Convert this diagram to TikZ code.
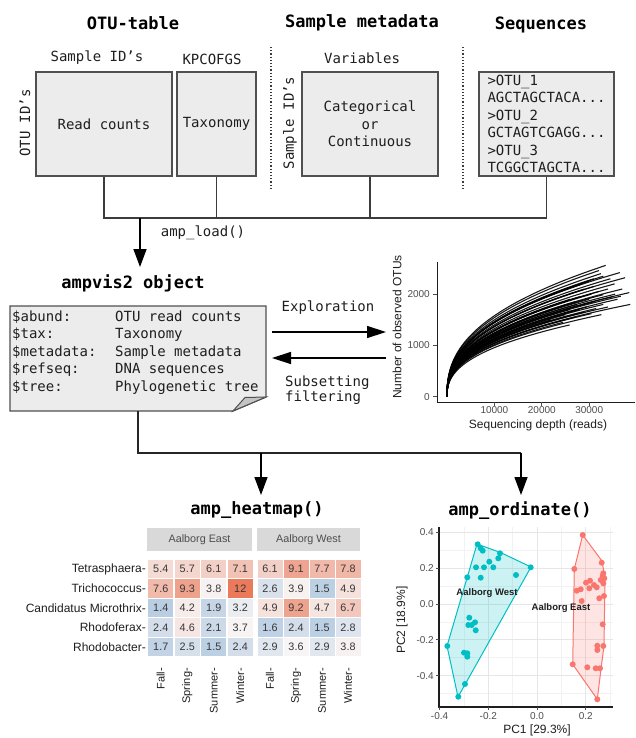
\documentclass[tikz,border=0pt]{standalone}
\usepackage{fontspec}
\setmainfont{DejaVu Sans Mono}
\newfontfamily\mono{DejaVu Sans Mono}
\newfontfamily\plotf{Liberation Sans}
\usetikzlibrary{arrows.meta}
\definecolor{boxfill}{RGB}{236,236,236}
\definecolor{boxdraw}{RGB}{80,80,80}
\definecolor{foldc}{RGB}{196,196,196}
\definecolor{linec}{RGB}{60,60,60}
\definecolor{hmR}{RGB}{234,122,90}
\definecolor{hmB}{RGB}{186,206,227}
\definecolor{hmW}{RGB}{247,245,245}
\definecolor{stripc}{RGB}{217,217,217}
\definecolor{tickc}{RGB}{77,77,77}
\definecolor{darkt}{RGB}{30,30,30}
\definecolor{cellt}{RGB}{55,55,55}
\definecolor{westc}{RGB}{0,191,196}
\definecolor{eastc}{RGB}{248,118,109}
\definecolor{gridc}{RGB}{230,230,230}
\definecolor{gridm}{RGB}{242,242,242}
\tikzset{
  title/.style={font=\mono\bfseries\fontsize{17}{20}\selectfont, inner sep=0pt},
  lbl/.style={font=\mono\fontsize{14}{17.4}\selectfont, inner sep=0pt, text=darkt},
  databox/.style={draw=boxdraw, fill=boxfill, line width=1.3pt, font=\mono\fontsize{14}{17.4}\selectfont, text=darkt, inner sep=0pt},
  conn/.style={draw=linec, line width=1.4pt},
  arr/.style={draw=black, line width=1.4pt, -{Triangle[width=13pt,length=18pt]}},
  sep/.style={draw=linec, line width=1.2pt, dotted},
  ptick/.style={font=\plotf\fontsize{10}{12}\selectfont, text=tickc, inner sep=0pt},
  paxis/.style={font=\plotf\fontsize{12}{14}\selectfont, inner sep=0pt, text=darkt},
  hcell/.style={minimum width=25pt, minimum height=18.3pt, inner sep=0pt, font=\plotf\fontsize{10.8}{12}\selectfont, text=cellt},
  strip/.style={fill=stripc, minimum height=23pt, inner sep=0pt, font=\plotf\fontsize{10.8}{12}\selectfont, text=tickc},
  rowlab/.style={font=\plotf\fontsize{12}{14}\selectfont, text=darkt, inner sep=0pt, anchor=east},
  collab/.style={font=\plotf\fontsize{11}{13}\selectfont, text=darkt, inner sep=0pt, anchor=east, rotate=90},
  curve/.style={draw=black, line width=1.1pt, opacity=0.9},
  wpt/.style={fill=westc},
  ept/.style={fill=eastc},
  grplab/.style={font=\plotf\bfseries\fontsize{9.5}{11}\selectfont, inner sep=0pt, text=darkt}
}
\begin{document}
\begin{tikzpicture}[x=1pt, y=-1pt]
\useasboundingbox (0,0) rectangle (635,738);
% ---------- top titles ----------
\node[title] (t1) at (133,23) {OTU-table};
\node[title] (t2) at (362,23) {Sample metadata};
\node[title] (t3) at (541,25) {Sequences};
% ---------- top boxes ----------
\node[lbl] (l1) at (97,58) {Sample ID’s};
\node[lbl] (l2) at (212,59) {KPCOFGS};
\node[lbl] (l3) at (362,58) {Variables};
\node[lbl, rotate=90] (l4) at (25,123) {OTU ID’s};
\node[lbl, rotate=90] (l5) at (290,123) {Sample ID’s};
\node[databox, minimum width=136pt, minimum height=104pt] (rc) at (104,124) {Read counts};
\node[databox, minimum width=79pt, minimum height=104pt] (tax) at (216.5,124) {Taxonomy};
\node[databox, minimum width=136pt, minimum height=104pt, align=center] (cat) at (370,124) {Categorical\\or\\Continuous};
\node[databox, minimum width=135pt, minimum height=104pt, align=left] (seq) at (546.5,124) {>OTU\_1\\AGCTAGCTACA...\\>OTU\_2\\GCTAGTCGAGG...\\>OTU\_3\\TCGGCTAGCTA...};
\draw[sep] (271,47) -- (271,190);
\draw[sep] (463,47) -- (463,190);
% ---------- bus to amp_load ----------
\coordinate (bus) at (0,218);
\draw[conn] (rc.south) -- (rc.south |- bus) -- (seq.south |- bus) -- (seq.south);
\draw[conn] (tax.south) -- (tax.south |- bus);
\draw[conn] (cat.south) -- (cat.south |- bus);
\coordinate (ld) at (140,218);
\coordinate (ldend) at (140,267);
\draw[arr] (ld) -- (ldend);
\node[lbl] (ldl) at (203,233) {amp\_load()};
% ---------- ampvis2 object ----------
\node[title] (objt) at (133,283) {ampvis2 object};
\node[minimum width=256pt, minimum height=105pt, inner sep=0pt] (obj) at (138,358.5) {};
\filldraw[fill=boxfill, draw=boxdraw, line width=1.3pt] (10,306) -- (266,306) -- (266,397) -- (233,411) -- (10,411) -- cycle;
\filldraw[fill=foldc, draw=boxdraw, line width=1pt] (233,411) -- (245,397.5) -- (266,397) -- cycle;
\node[lbl, align=left, anchor=west] (objtxt) at (12,352.5) {\makebox[103pt][l]{\$abund:}OTU read counts\\\makebox[103pt][l]{\$tax:}Taxonomy\\\makebox[103pt][l]{\$metadata:}Sample metadata\\\makebox[103pt][l]{\$refseq:}DNA sequences\\\makebox[103pt][l]{\$tree:}Phylogenetic tree};
% ---------- exploration arrows ----------
\node[lbl] (expl) at (328,308) {Exploration};
\coordinate (e1) at (272,332);
\coordinate (e2) at (386,332);
\coordinate (f1) at (386,358);
\coordinate (f2) at (272,358);
\draw[draw=black, line width=1.4pt, -{Triangle[width=12pt,length=19pt]}] (e1) -- (e2);
\draw[draw=black, line width=1.4pt, -{Triangle[width=12pt,length=19pt]}] (f1) -- (f2);
\node[font=\mono\fontsize{14}{15}\selectfont, inner sep=0pt, align=left, anchor=west, text=darkt] (subs) at (285,390.5) {Subsetting\\filtering};
% ---------- rarefaction plot ----------
\draw[line width=1pt, draw=darkt] (437,262) -- (437,402) -- (635,402);
\foreach \yy/\tl in {396.7/0, 345.4/1000, 294.1/2000} {
  \draw[line width=0.8pt, draw=tickc] (433,\yy) -- (437,\yy);
  \node[ptick, anchor=east] at (430,\yy) {\tl};
}
\foreach \xx/\tl in {494.4/10000, 541.8/20000, 589.2/30000} {
  \draw[line width=0.8pt, draw=tickc] (\xx,402) -- (\xx,406);
  \node[ptick, anchor=north] at (\xx,406) {\tl};
}
\node[paxis] (rx) at (538,425) {Sequencing depth (reads)};
\node[paxis, rotate=90] (ry) at (397,327) {Number of observed OTUs};
\begin{scope}[xshift=447pt, yshift=-396.7pt, x=47.4pt, y=51.3pt]
\foreach \D/\N in {3.35/2.56, 3.21/2.46, 3.65/2.42, 3.76/2.32, 3.54/2.20, 3.85/2.03, 3.67/1.96, 3.87/1.80, 3.26/1.60, 2.59/1.40, 3.30/1.99,
  3.0/2.25, 2.9/2.1, 3.1/2.15, 2.8/1.95, 3.2/2.05, 3.4/2.1, 3.0/1.9, 2.7/1.85, 3.1/1.85, 3.5/1.95, 2.95/1.75, 3.3/1.8, 2.6/1.7,
  2.8/1.7, 3.6/1.9, 3.15/1.72, 2.5/1.6, 2.9/1.65, 3.4/1.75, 2.7/1.55, 3.05/1.62, 2.2/1.5, 2.45/1.45, 3.45/2.3, 3.3/2.35, 3.1/2.3,
  2.85/2.2, 3.55/2.0, 2.4/1.75, 2.6/1.9, 3.25/2.4, 3.7/2.1, 3.05/2.0, 2.75/1.8}{
  \draw[curve] plot[domain=0:1, samples=30, smooth] ({\D*\x*\x*sqrt(\x)}, {\N*\x});
}
\end{scope}
% ---------- connectors to functions ----------
\coordinate (bus2) at (0,453);
\coordinate (a1) at (261,453);
\coordinate (a2) at (521,453);
\draw[draw=black!85, line width=1.4pt] (obj.south) -- (obj.south |- bus2) -- (a2);
\draw[arr] (a1) -- (261,495);
\draw[arr] (a2) -- (521,495);
\node[title] (hmt) at (257,510) {amp\_heatmap()};
\node[title] (ordt) at (520,511) {amp\_ordinate()};
% ---------- heatmap ----------
\node[strip, minimum width=105pt] (se) at (199.5,539.5) {Aalborg East};
\node[strip, minimum width=103pt] (sw) at (308.5,539.5) {Aalborg West};
\foreach \r/\vals in {0/{5.4,5.7,6.1,7.1,6.1,9.1,7.7,7.8},1/{7.6,9.3,3.8,12,2.6,3.9,1.5,4.9},2/{1.4,4.2,1.9,3.2,4.9,9.2,4.7,6.7},3/{2.4,4.6,2.1,3.7,1.6,2.4,1.5,2.8},4/{1.7,2.5,1.5,2.4,2.9,3.6,2.9,3.8}}{
  \foreach \v [count=\c from 0] in \vals {
    \pgfmathsetmacro\hmx{\c<4 ? 160.75+\c*26.5 : 270+(\c-4)*26}
    \pgfmathsetmacro\hmy{569+\r*19.5}
    \pgfmathsetmacro\hmd{\v-3.6}
    \ifdim\hmd pt>0pt
      \pgfmathsetmacro\hmp{100*(\hmd/8.4)}
      \colorlet{cellc}{hmR!\hmp!hmW}
    \else
      \pgfmathsetmacro\hmp{100*((3.6-\v+0.001)/2.2)^0.9}
      \colorlet{cellc}{hmB!\hmp!hmW}
    \fi
    \node[hcell, fill=cellc] (c\r\c) at (\hmx,\hmy) {\v};
  }
}
\foreach \r/\nm in {0/Tetrasphaera, 1/Trichococcus, 2/Candidatus Microthrix, 3/Rhodoferax, 4/Rhodobacter}{
  \node[rowlab] (rl\r) at (146,569+\r*19.5) {\nm-};
}
\foreach \c/\nm in {0/Fall, 1/Spring, 2/Summer, 3/Winter}{
  \node[collab] (ce\c) at (160.75+\c*26.5,668) {\nm-};
  \node[collab] (cw\c) at (270+\c*26,668) {\nm-};
}
% ---------- ordination ----------
\foreach \xx in {464,512.7,561.4,610} \draw[gridm, line width=0.6pt] (\xx,527) -- (\xx,707);
\foreach \yy in {550.3,586.1,621.9,657.7,693.5} \draw[gridm, line width=0.6pt] (439,\yy) -- (613,\yy);
\foreach \xx in {488.3,537,585.7} \draw[gridc, line width=0.9pt] (\xx,527) -- (\xx,707);
\foreach \yy in {532.4,568.2,604,639.8,675.6} \draw[gridc, line width=0.9pt] (439,\yy) -- (613,\yy);
\draw[line width=1.1pt, draw=darkt] (439,527) -- (439,707) -- (613,707);
\foreach \yy/\tl in {532.4/0.4, 568.2/0.2, 604/0.0, 639.8/-0.2, 675.6/-0.4}{
  \draw[line width=0.7pt, draw=tickc] (436,\yy) -- (439,\yy);
  \node[ptick, anchor=east] at (434,\yy) {\tl};
}
\foreach \xx/\tl in {439.6/-0.4, 488.3/-0.2, 537/0.0, 585.7/0.2}{
  \draw[line width=0.7pt, draw=tickc] (\xx,707) -- (\xx,710);
  \node[ptick, anchor=north] at (\xx,712) {\tl};
}
\node[paxis, rotate=90] (py) at (402,620) {PC2 [18.9\%]};
\node[paxis] (px) at (537,730) {PC1 [29.3\%]};
\filldraw[draw=westc, fill=westc, fill opacity=0.2, line width=1pt] (477,544) -- (500.5,552.5) -- (531,567) -- (458,697) -- (447,646) -- cycle;
\filldraw[draw=eastc, fill=eastc, fill opacity=0.2, line width=1pt] (582.7,535) -- (602,561) -- (605,578) -- (604,646) -- (601,669) -- (597.3,699.3) -- (572.7,664.3) -- (574.3,569) -- cycle;
\foreach \pxx/\pyy in {477.7/544.3, 480.7/548.3, 482.7/550.7, 500/553.3, 498.3/558.3, 530.7/567.3, 489.3/561.7, 493.3/567.3, 484/567.3, 476/567.3, 516/575, 480.7/577.7, 467.3/577.3, 469.3/617.7, 471.7/625, 468.3/625, 475/622.3, 475.7/630.3, 447.3/646, 464/652.7, 467.3/653.3, 467.3/656.7, 465/684, 458.3/696.7}{
  \fill[wpt] (\pxx,\pyy) circle (3pt);
}
\foreach \pxx/\pyy in {582.7/535, 601.7/562.7, 574.3/569, 603.3/573.3, 602.7/576, 604.3/578.3, 600.7/580, 603.3/583.3, 590/580.7, 586/582.7, 594/585, 596.7/587.3, 589.3/588.3, 580.7/589.3, 576.7/590.7, 604/596, 599.3/598.3, 581.7/601, 602.7/624.3, 597.3/645.7, 603.3/646, 597.3/650, 572.7/664.3, 587.3/667.3, 595.7/668.3, 600/668.3, 597.3/699.3}{
  \fill[ept] (\pxx,\pyy) circle (3pt);
}
\node[grplab] (gw) at (487,593) {Aalborg West};
\node[grplab] (ge) at (561,608) {Aalborg East};
\end{tikzpicture}
\end{document}
